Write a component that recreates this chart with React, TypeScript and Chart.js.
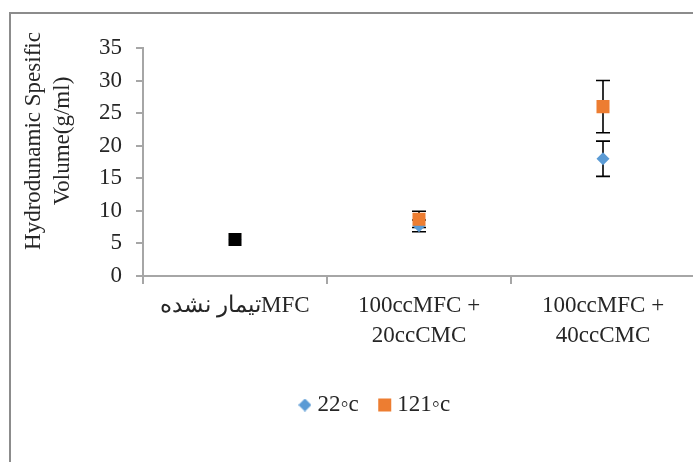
import React, { useEffect, useRef } from "react";
import { Chart, registerables } from "chart.js";

Chart.register(...registerables);

const categories: string[][] = [
  ["تیمار نشدهMFC"],
  ["100ccMFC +", "20ccCMC"],
  ["100ccMFC +", "40ccCMC"],
];
const seriesNames = ["22◦c", "121◦c"];
const values22 = [5.6, 7.7, 18];
const errors22 = [0, 0.9, 2.7];
const values121 = [5.6, 8.7, 26];
const errors121 = [0, 1.25, 4];
const yTitleLines = ["Hydrodunamic Spesific", "Volume(g/ml)"];
const yMin = 0;
const yMax = 35;
const yStep = 5;

const FONT = "'Liberation Serif', 'Times New Roman', serif";
const TEXT = "#262626";
const AXIS = "#a6a6a6";
const BLUE = "#5B9BD5";
const ORANGE = "#ED7D31";

const W = 757;
const H = 480;

function diamondIcon(color: string, size: number): HTMLCanvasElement {
  const c = document.createElement("canvas");
  c.width = size;
  c.height = size;
  const g = c.getContext("2d")!;
  const h = size / 2;
  g.fillStyle = color;
  g.beginPath();
  g.moveTo(h, 0);
  g.lineTo(size, h);
  g.lineTo(h, size);
  g.lineTo(0, h);
  g.closePath();
  g.fill();
  return c;
}

export default function App() {
  const ref = useRef<HTMLCanvasElement | null>(null);

  useEffect(() => {
    if (!ref.current) return;

    const legendDiamond = diamondIcon(BLUE, 13);

    const errorBars = {
      id: "errorBars",
      beforeDatasetsDraw(chart: any) {
        const ctx = chart.ctx;
        const xs = chart.scales.x;
        const ys = chart.scales.y;
        ctx.save();
        ctx.strokeStyle = "#000";
        ctx.lineWidth = 1.6;
        chart.data.datasets.forEach((ds: any) => {
          const errs: number[] = ds.errors || [];
          ds.data.forEach((v: number, i: number) => {
            const e = errs[i];
            if (!e) return;
            const x = xs.getPixelForValue(i);
            const yT = ys.getPixelForValue(v + e);
            const yB = ys.getPixelForValue(v - e);
            ctx.beginPath();
            ctx.moveTo(x, yT);
            ctx.lineTo(x, yB);
            ctx.moveTo(x - 7, yT);
            ctx.lineTo(x + 7, yT);
            ctx.moveTo(x - 7, yB);
            ctx.lineTo(x + 7, yB);
            ctx.stroke();
          });
        });
        ctx.restore();
      },
    };

    const yTitle = {
      id: "yTitle",
      afterDraw(chart: any) {
        const ctx = chart.ctx;
        const area = chart.chartArea;
        ctx.save();
        ctx.fillStyle = TEXT;
        ctx.font = `23px ${FONT}`;
        ctx.textAlign = "center";
        ctx.textBaseline = "middle";
        const cy = area.top + (area.bottom - area.top) / 2 - 21;
        yTitleLines.forEach((line, k) => {
          ctx.save();
          ctx.translate(34 + k * 29, cy);
          ctx.rotate(-Math.PI / 2);
          ctx.fillText(line, 0, 0);
          ctx.restore();
        });
        ctx.restore();
      },
    };

    const chart = new Chart(ref.current, {
      type: "line",
      data: {
        labels: categories,
        datasets: [
          {
            label: seriesNames[0],
            data: values22,
            errors: errors22,
            showLine: false,
            pointStyle: "rectRot",
            pointRadius: 6.5,
            pointHoverRadius: 6.5,
            backgroundColor: BLUE,
            borderColor: BLUE,
            pointBackgroundColor: BLUE,
            pointBorderColor: BLUE,
            pointBorderWidth: 0,
            order: 2,
          } as any,
          {
            label: seriesNames[1],
            data: values121,
            errors: errors121,
            showLine: false,
            pointStyle: "rect",
            pointRadius: 9.2,
            pointHoverRadius: 9.2,
            backgroundColor: ORANGE,
            borderColor: ORANGE,
            pointBackgroundColor: ["#000000", ORANGE, ORANGE],
            pointBorderColor: ["#000000", ORANGE, ORANGE],
            pointBorderWidth: 0,
            order: 1,
          } as any,
        ],
      },
      options: {
        responsive: false,
        animation: false,
        events: [],
        layout: { padding: { top: 48, left: 59, right: 62, bottom: 53.5 } },
        plugins: {
          tooltip: { enabled: false },
          title: { display: false },
          legend: {
            display: true,
            position: "bottom",
            labels: {
              usePointStyle: true,
              boxWidth: 2,
              boxHeight: 13,
              padding: 25,
              color: TEXT,
              font: { family: FONT, size: 23 },
              sort: (a: any, b: any) => a.datasetIndex - b.datasetIndex,
              generateLabels: (c: any) => {
                const items = Chart.defaults.plugins.legend.labels.generateLabels(c);
                items.forEach((it: any) => {
                  const ds = c.data.datasets[it.datasetIndex];
                  it.fillStyle = ds.backgroundColor;
                  it.strokeStyle = ds.backgroundColor;
                  it.lineWidth = 0;
                  if (ds.pointStyle === "rectRot") it.pointStyle = legendDiamond;
                });
                return items;
              },
            },
          },
        },
        scales: {
          x: {
            type: "category",
            offset: true,
            grid: {
              display: true,
              offset: true,
              drawOnChartArea: false,
              drawTicks: true,
              tickLength: 8,
              color: AXIS,
              lineWidth: 2,
            },
            border: { display: true, color: AXIS, width: 2 },
            ticks: {
              color: TEXT,
              padding: 7,
              maxRotation: 0,
              autoSkip: false,
              font: { family: FONT, size: 23, lineHeight: 1.3 },
            },
            afterFit: (s: any) => {
              s.height = 92.5;
            },
          },
          y: {
            min: yMin,
            max: yMax,
            grid: {
              display: true,
              drawOnChartArea: false,
              drawTicks: true,
              tickLength: 7,
              color: AXIS,
              lineWidth: 2,
            },
            border: { display: true, color: AXIS, width: 2 },
            ticks: {
              stepSize: yStep,
              color: TEXT,
              padding: 14,
              font: { family: FONT, size: 23 },
            },
            afterFit: (s: any) => {
              s.width = 84;
            },
          },
        },
      } as any,
      plugins: [errorBars, yTitle],
    });

    return () => chart.destroy();
  }, []);

  return (
    <div
      style={{
        position: "fixed",
        left: 0,
        top: 0,
        width: 693,
        height: 462,
        overflow: "hidden",
        background: "#fff",
      }}
    >
      <div
        style={{
          position: "absolute",
          left: 9,
          top: 12,
          width: 900,
          height: 700,
          border: "2px solid #8c8c8c",
          boxSizing: "border-box",
        }}
      />
      <canvas
        ref={ref}
        width={W}
        height={H}
        style={{ position: "absolute", left: 0, top: 0, width: W, height: H }}
      />
    </div>
  );
}
